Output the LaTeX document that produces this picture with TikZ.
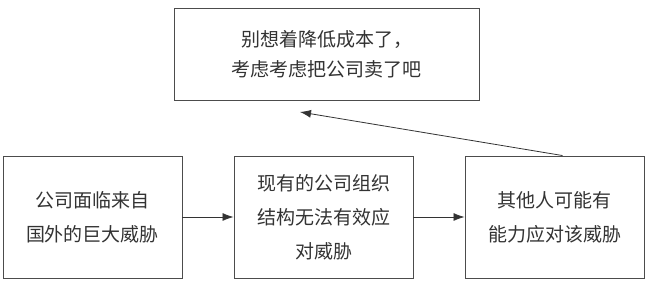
\documentclass[tikz,border=0pt]{standalone}
\usepackage{fontspec}
\setmainfont{Noto Sans CJK SC}
\usetikzlibrary{arrows.meta}
\tikzset{
	stepbox/.style={draw=black!70, line width=0.9pt, fill=white, minimum width=179pt, minimum height=122pt, align=center, inner sep=0pt, font=\fontsize{19pt}{34pt}\selectfont, text=black!80},
	flow/.style={draw=black!80, line width=0.8pt, -{Latex[length=11pt,width=8pt]}}
}
\begin{document}
\begin{tikzpicture}[x=1pt, y=1pt]
	\useasboundingbox (0,0) rectangle (654,296);
	\node[stepbox, minimum width=305pt, minimum height=92pt, font=\fontsize{19pt}{30pt}\selectfont] (sell) at (326.5,242) {别想着降低成本了，\\考虑考虑把公司卖了吧};
	\node[stepbox] (threat) at (92.5,79) {公司面临来自\\国外的巨大威胁};
	\node[stepbox] (struct) at (323.5,79) {现有的公司组织\\结构无法有效应\\对威胁};
	\node[stepbox] (others) at (554.5,79) {其他人可能有\\能力应对该威胁};
	\coordinate (tip) at (300,184);
	\draw[flow] (threat) -- (struct);
	\draw[flow] (struct) -- (others);
	\draw[flow] ([xshift=8pt]others.north) -- (tip);
\end{tikzpicture}
\end{document}
